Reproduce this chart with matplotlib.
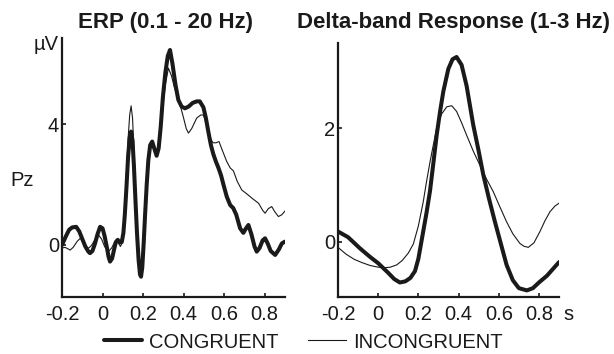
import matplotlib
matplotlib.use("Agg")
import matplotlib.pyplot as plt

plt.rcParams["font.family"] = ["Liberation Sans", "DejaVu Sans"]

# ERP (0.1 - 20 Hz), Pz, microvolts
erp_con_t = [-0.2, -0.18, -0.165, -0.15, -0.13, -0.115, -0.1, -0.085, -0.07, -0.062,
             -0.05, -0.037, -0.025, -0.012, 0.0, 0.01, 0.022, 0.03, 0.037, 0.047,
             0.057, 0.066, 0.075, 0.085, 0.095, 0.103, 0.11, 0.118, 0.126, 0.134,
             0.141, 0.148, 0.155, 0.163, 0.17, 0.178, 0.185, 0.19, 0.196, 0.203,
             0.21, 0.218, 0.226, 0.235, 0.245, 0.255, 0.267, 0.277, 0.287, 0.298,
             0.31, 0.322, 0.333, 0.345, 0.36, 0.374, 0.39, 0.407, 0.425, 0.445,
             0.465, 0.48, 0.498, 0.51, 0.522, 0.535, 0.547, 0.56, 0.572, 0.585,
             0.597, 0.613, 0.63, 0.645, 0.66, 0.679, 0.695, 0.708, 0.72, 0.735,
             0.75, 0.761, 0.775, 0.79, 0.802, 0.815, 0.83, 0.852, 0.87, 0.885, 0.9]
erp_con_v = [0.0, 0.3, 0.5, 0.58, 0.6, 0.45, 0.2, -0.05, -0.22, -0.27,
             -0.2, 0.05, 0.35, 0.6, 0.55, 0.3, -0.1, -0.4, -0.55, -0.45,
             -0.15, 0.1, 0.17, 0.08, 0.1, 0.4, 1.0, 1.9, 2.9, 3.55,
             3.75, 3.45, 2.6, 1.4, 0.4, -0.5, -0.98, -1.05, -0.75, 0.05,
             1.0, 2.0, 2.8, 3.3, 3.42, 3.2, 2.95, 3.2, 3.9, 4.9,
             5.7, 6.25, 6.45, 6.0, 5.3, 4.8, 4.58, 4.52, 4.58, 4.7,
             4.75, 4.75, 4.55, 4.2, 3.75, 3.3, 3.0, 2.75, 2.55, 2.3,
             1.99, 1.6, 1.32, 1.22, 1.0, 0.55, 0.4, 0.55, 0.66, 0.35,
             -0.05, -0.22, -0.1, 0.15, 0.22, 0.05, -0.2, -0.33, -0.15, 0.05, 0.11]

erp_inc_t = [-0.2, -0.185, -0.17, -0.16, -0.145, -0.125, -0.11, -0.095, -0.08, -0.07,
             -0.055, -0.035, -0.02, -0.005, 0.01, 0.029, 0.045, 0.06, 0.07, 0.08,
             0.088, 0.096, 0.103, 0.11, 0.118, 0.126, 0.134, 0.141, 0.148, 0.155,
             0.163, 0.17, 0.178, 0.185, 0.19, 0.196, 0.203, 0.21, 0.218, 0.226,
             0.235, 0.245, 0.255, 0.267, 0.277, 0.287, 0.298, 0.31, 0.325, 0.34,
             0.355, 0.37, 0.383, 0.4, 0.413, 0.424, 0.44, 0.465, 0.485, 0.498,
             0.515, 0.53, 0.545, 0.56, 0.575, 0.59, 0.613, 0.63, 0.646, 0.665,
             0.687, 0.71, 0.737, 0.77, 0.79, 0.802, 0.818, 0.835, 0.85, 0.868,
             0.885, 0.9]
erp_inc_v = [-0.1, -0.08, -0.13, -0.17, -0.08, 0.12, 0.22, 0.12, -0.05, -0.11,
             -0.02, 0.2, 0.33, 0.2, -0.05, -0.22, -0.1, 0.1, 0.17, 0.05,
             -0.05, 0.05, 0.5, 1.3, 2.4, 3.5, 4.3, 4.6, 4.2, 3.2,
             1.8, 0.6, -0.3, -0.8, -0.9, -0.65, 0.1, 1.0, 2.0, 2.8,
             3.25, 3.4, 3.2, 3.0, 3.2, 3.8, 4.6, 5.3, 5.85, 5.6,
             5.2, 4.9, 4.63, 4.2, 3.85, 3.7, 3.85, 4.2, 4.3, 4.3,
             3.95, 3.55, 3.38, 3.38, 3.42, 3.15, 2.76, 2.55, 2.45, 2.1,
             1.82, 1.7, 1.55, 1.38, 1.15, 1.05, 1.2, 1.27, 1.1, 0.94,
             1.0, 1.12]

# Delta-band response (1-3 Hz)
delta_con_t = [-0.2, -0.15, -0.09, -0.04, 0.0, 0.05, 0.08, 0.108, 0.135, 0.16,
               0.183, 0.2, 0.22, 0.24, 0.258, 0.275, 0.291, 0.308, 0.324, 0.349,
               0.37, 0.39, 0.415, 0.44, 0.473, 0.5, 0.523, 0.55, 0.581, 0.61,
               0.639, 0.67, 0.7, 0.74, 0.77, 0.8, 0.84, 0.87, 0.9]
delta_con_v = [0.18, 0.08, -0.12, -0.27, -0.38, -0.55, -0.66, -0.72, -0.7, -0.64,
               -0.52, -0.3, 0.1, 0.5, 0.9, 1.4, 1.88, 2.3, 2.65, 3.05,
               3.22, 3.26, 3.12, 2.75, 2.06, 1.6, 1.18, 0.78, 0.35, -0.03,
               -0.41, -0.68, -0.82, -0.86, -0.82, -0.72, -0.6, -0.48, -0.36]

delta_inc_t = [-0.2, -0.16, -0.12, -0.08, -0.04, 0.0, 0.03, 0.06, 0.092, 0.12,
               0.15, 0.175, 0.2, 0.224, 0.24, 0.258, 0.275, 0.291, 0.315, 0.341,
               0.366, 0.39, 0.415, 0.44, 0.473, 0.506, 0.54, 0.573, 0.605, 0.639,
               0.67, 0.705, 0.725, 0.747, 0.775, 0.805, 0.83, 0.855, 0.88, 0.9]
delta_inc_v = [-0.1, -0.22, -0.31, -0.37, -0.42, -0.45, -0.46, -0.45, -0.41, -0.33,
               -0.2, -0.04, 0.28, 0.7, 1.05, 1.41, 1.72, 2.0, 2.25, 2.38,
               2.4, 2.3, 2.1, 1.88, 1.6, 1.35, 1.1, 0.88, 0.62, 0.35,
               0.14, -0.03, -0.08, -0.1, -0.02, 0.18, 0.37, 0.53, 0.63, 0.68]

x_ticks = [-0.2, 0, 0.2, 0.4, 0.6, 0.8]
x_labels = ["-0.2", "0", "0.2", "0.4", "0.6", "0.8"]

INK = "#1a1a1a"
FS = 14.5


def _style(ax, yticks):
    for side in ["top", "right"]:
        ax.spines[side].set_visible(False)
    for side in ["left", "bottom"]:
        ax.spines[side].set_linewidth(1.6)
        ax.spines[side].set_color(INK)
    ax.set_xlim(-0.2, 0.9)
    ax.set_xticks(x_ticks)
    ax.set_xticklabels(x_labels)
    ax.set_yticks(yticks)
    ax.set_yticklabels([str(v) for v in yticks])
    ax.tick_params(direction="in", length=3, width=1.2, color=INK,
                   labelsize=FS, labelcolor=INK)
    ax.tick_params(axis="x", pad=6)
    ax.tick_params(axis="y", pad=2)


fig = plt.figure(figsize=(6.14, 3.54), dpi=100)
ax1 = fig.add_axes([0.101, 0.162, 0.363, 0.731])
ax2 = fig.add_axes([0.5505, 0.162, 0.36, 0.717])

l1, = ax1.plot(erp_con_t, erp_con_v, color=INK, lw=2.9,
               solid_joinstyle="round", solid_capstyle="round")
l2, = ax1.plot(erp_inc_t, erp_inc_v, color=INK, lw=0.8)
ax1.set_ylim(-1.71, 6.85)
_style(ax1, [0, 4])

ax2.plot(delta_con_t, delta_con_v, color=INK, lw=2.9,
         solid_joinstyle="round", solid_capstyle="round")
ax2.plot(delta_inc_t, delta_inc_v, color=INK, lw=0.8)
ax2.set_ylim(-0.97, 3.51)
_style(ax2, [0, 2])

fig.text(0.27, 1 - 28 / 354, "ERP (0.1 - 20 Hz)", fontsize=16, fontweight="bold",
         ha="center", va="baseline", color=INK)
fig.text(0.738, 1 - 28 / 354, "Delta-band Response (1-3 Hz)", fontsize=16,
         fontweight="bold", ha="center", va="baseline", color=INK)
fig.text(22 / 614, 1 - 180 / 354, "Pz", fontsize=FS, ha="center", va="center", color=INK)
fig.text(59 / 614, 1 - 45 / 354, "µV", fontsize=FS, ha="right", va="center", color=INK)
fig.text(563 / 614, 1 - 314 / 354, "s", fontsize=FS, ha="left", va="center", color=INK)

fig.legend([l1, l2], ["CONGRUENT", "INCONGRUENT"], loc="center",
           bbox_to_anchor=(0.494, 1 - 342 / 354), ncol=2, frameon=False,
           fontsize=FS, handlelength=1.85, handletextpad=0.35, columnspacing=1.5,
           borderpad=0, borderaxespad=0, labelcolor=INK)

fig.savefig("out.png", dpi=100)
